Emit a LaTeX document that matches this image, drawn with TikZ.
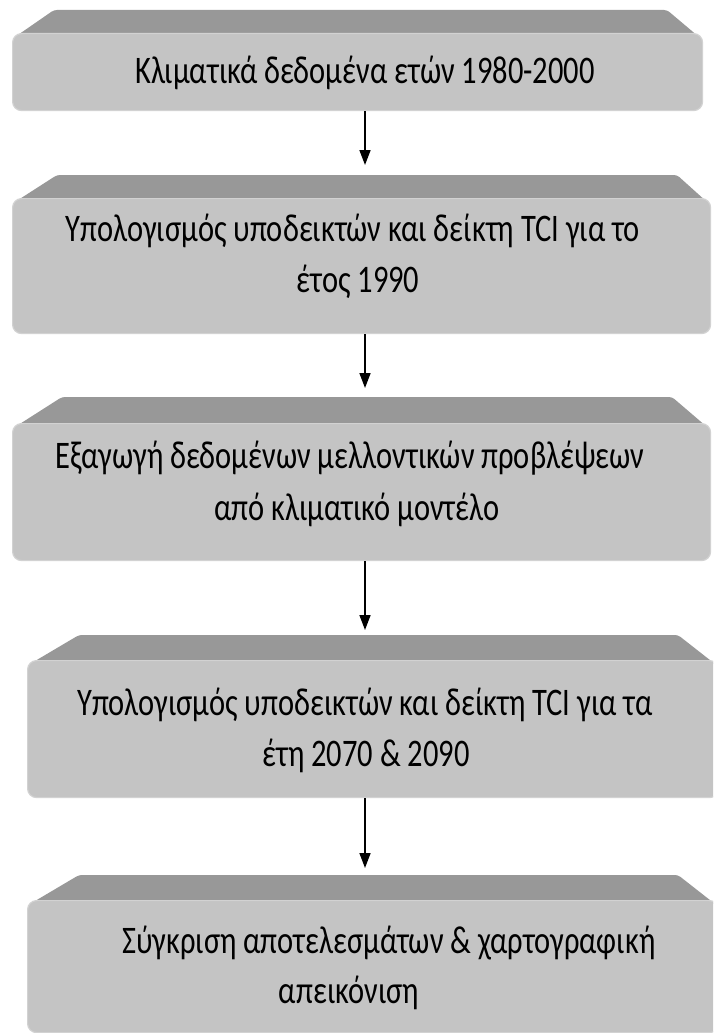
\documentclass[tikz,border=0pt]{standalone}
\usepackage{fontspec}
\setmainfont{Carlito}
\usetikzlibrary{arrows.meta,calc}
\definecolor{facegray}{HTML}{C4C4C4}
\definecolor{edgegray}{HTML}{D2D2D2}
\definecolor{topgray}{HTML}{989898}
\tikzset{
  face/.style={fill=facegray, draw=edgegray, line width=1.2pt, rounded corners=9pt, inner sep=0pt},
  bevel/.style={fill=topgray, rounded corners=3pt},
  label/.style={anchor=base, inner sep=0pt, font=\fontsize{30.5}{36}\selectfont},
  flow/.style={-{Triangle[width=11pt,length=15pt]}, line width=1.6pt, black}
}
\newcommand\tall[1]{\scalebox{1}[1.28]{#1}}
% #1 name, #2 x0, #3 x1, #4 y top of bevel, #5 y top of face, #6 y bottom, #7 left offset, #8 right offset
\newcommand\flowbox[8]{%
  \fill[bevel] (#2+3,#5+4) -- (#2+#7,#4) -- (#3-#8,#4) -- (#3-3,#5+4) -- cycle;
  \node[face, minimum width=#3-#2, minimum height=#6-#5, anchor=north west] (#1) at (#2,#5) {};
}
\begin{document}
\begin{tikzpicture}[x=1pt,y=-1pt]
\useasboundingbox (0,0) rectangle (713,1033);
\clip (0,0) rectangle (713,1033);
\fill[white] (0,0) rectangle (713,1033);

\flowbox{b1}{12}{702}{10}{33}{110}{42}{35}
\flowbox{b2}{12}{710}{175}{198}{333}{45}{33}
\flowbox{b3}{12}{710}{397}{423}{560}{50}{38}
\flowbox{b4}{27}{718}{635}{660}{797}{52}{40}
\flowbox{b5}{27}{718}{875}{900}{1032}{52}{40}

\node[label] (t1) at (365,84) {\tall{Κλιματικά δεδομένα ετών 1980-2000}};
\node[label] (t2a) at (353,241) {\tall{Υπολογισμός υποδεικτών και δείκτη TCI για το}};
\node[label] (t2b) at (358,292) {\tall{έτος 1990}};
\node[label] (t3a) at (350,468) {\tall{Εξαγωγή δεδομένων μελλοντικών προβλέψεων}};
\node[label] (t3b) at (357,520) {\tall{από κλιματικό μοντέλο}};
\node[label] (t4a) at (365,715) {\tall{Υπολογισμός υποδεικτών και δείκτη TCI για τα}};
\node[label] (t4b) at (366,766) {\tall{έτη 2070 \& 2090}};
\node[label] (t5a) at (389,953) {\tall{Σύγκριση αποτελεσμάτων \& χαρτογραφική}};
\node[label] (t5b) at (349,1003) {\tall{απεικόνιση}};

\coordinate (ax) at (365,0);
\draw[flow, shorten >=33pt] (b1.south -| ax) -- (b2.north -| ax);
\draw[flow, shorten >=35pt] (b2.south -| ax) -- (b3.north -| ax);
\draw[flow, shorten >=30pt] (b3.south -| ax) -- (b4.north -| ax);
\draw[flow, shorten >=32pt] (b4.south -| ax) -- (b5.north -| ax);
\end{tikzpicture}
\end{document}
